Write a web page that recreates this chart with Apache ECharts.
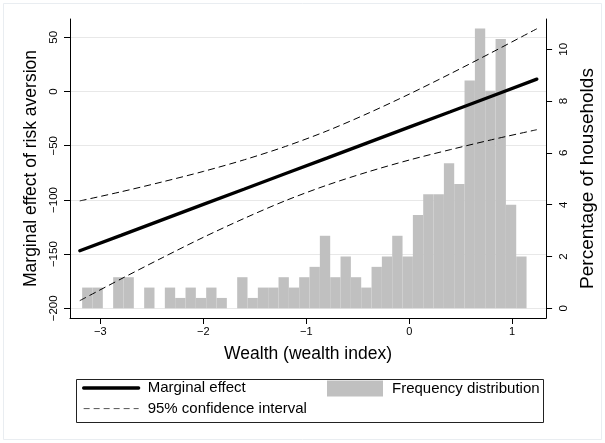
<!DOCTYPE html>
<html><head><meta charset="utf-8">
<script src="https://cdn.jsdelivr.net/npm/echarts@6/dist/echarts.min.js"></script>
<style>html,body{margin:0;padding:0;background:#fff}#c{width:605px;height:443px}</style>
</head><body><div id="c"></div>
<script>
// ---- data ----
const binStart = -3.177;
const binWidth = 0.1004;
const histPercent = [0.8,0.8,0,1.2,1.2,0,0.8,0,0.8,0.4,0.8,0.4,0.8,0.4,0,1.2,0.4,0.8,0.8,1.2,0.8,1.2,1.6,2.8,1.2,2.0,1.2,0.8,1.6,2.0,2.8,2.0,3.6,4.4,4.4,5.6,4.8,8.8,10.8,8.4,10.4,4.0,2.0];
const wealthGrid = [-3.2,-2.8,-2.4,-2.0,-1.6,-1.2,-0.8,-0.4,0,0.4,0.8,1.24];
const marginalEffect = [-146.9,-132.7,-118.4,-104.1,-89.9,-75.6,-61.4,-47.1,-32.8,-18.6,-4.3,11.4];
const ciUpper = [-100.9,-92.5,-83.4,-73.7,-62.9,-50.6,-36.4,-20.1,-2.4,16.4,35.9,57.9];
const ciLower = [-192.9,-172.9,-153.4,-134.5,-116.9,-100.6,-86.4,-74.1,-63.2,-53.6,-44.5,-35.2];
const xTicks = [-3,-2,-1,0,1];
const yLeftTicks = [-200,-150,-100,-50,0,50];
const yRightTicks = [0,2,4,6,8,10];

const FONT = 'Liberation Sans, Arial, sans-serif';
const fmt = v => String(v).replace('-', '\u2212');

const histData = histPercent.map((p, i) => [binStart + i * binWidth, binStart + (i + 1) * binWidth, p]).filter(d => d[2] > 0);
const pairs = arr => wealthGrid.map((x, i) => [x, arr[i]]);

const chart = echarts.init(document.getElementById('c'), null, {renderer: 'canvas'});
chart.setOption({
  animation: false,
  backgroundColor: '#fff',
  textStyle: {fontFamily: FONT},
  grid: {left: 70, right: 54, top: 19, bottom: 125, containLabel: false},
  xAxis: {
    type: 'value', min: -3.295, max: 1.33,
    axisLine: {onZero: false, lineStyle: {color: '#000', width: 1}},
    axisTick: {customValues: xTicks, length: 6, lineStyle: {color: '#000'}},
    axisLabel: {customValues: xTicks, formatter: fmt, fontSize: 11, color: '#000', margin: 8, fontFamily: FONT},
    splitLine: {show: false},
    name: 'Wealth (wealth index)', nameLocation: 'middle', nameGap: 27,
    nameTextStyle: {fontSize: 17.5, color: '#000', fontFamily: FONT}
  },
  yAxis: [{
    type: 'value', position: 'left', min: -208.9, max: 66.9,
    axisLine: {show: true, onZero: false, lineStyle: {color: '#000', width: 1}},
    axisTick: {show: true, customValues: yLeftTicks, length: 6, lineStyle: {color: '#000'}},
    axisLabel: {customValues: yLeftTicks, formatter: fmt, rotate: 90, fontSize: 11.5, color: '#000', margin: 10, fontFamily: FONT},
    splitLine: {show: true, lineStyle: {color: '#e8e8e8', width: 1}},
    name: 'Marginal effect of risk aversion', nameLocation: 'middle', nameGap: 30,
    nameTextStyle: {fontSize: 17.5, color: '#000', fontFamily: FONT}
  }, {
    type: 'value', position: 'right', min: -0.375, max: 11.17,
    axisLine: {show: true, onZero: false, lineStyle: {color: '#000', width: 1}},
    axisTick: {show: true, customValues: yRightTicks, length: 6, lineStyle: {color: '#000'}},
    axisLabel: {customValues: yRightTicks, formatter: fmt, rotate: 90, fontSize: 11.5, color: '#000', margin: 12, fontFamily: FONT},
    splitLine: {show: false},
    name: 'Percentage of households', nameLocation: 'middle', nameGap: 24,
    nameTextStyle: {fontSize: 19, color: '#000', fontFamily: FONT, padding: [0, 20, 0, 0]}
  }],
  legend: [{
    data: [
      {name: 'Marginal effect', lineStyle: {width: 3.3, color: '#000'}},
      {name: '95% confidence interval', lineStyle: {width: 1, color: '#555', type: [6, 4]}}
    ],
    orient: 'vertical', left: 77, top: 375.5, itemWidth: 55, itemHeight: 16, itemGap: 5.6,
    selectedMode: false,
    itemStyle: {opacity: 0},
    textStyle: {fontSize: 15, color: '#000', fontFamily: FONT, padding: [0, 0, 0, 4]}
  }, {
    data: [{name: 'Frequency distribution', icon: 'rect'}],
    left: 322, top: 375.5, itemWidth: 56, itemHeight: 16,
    selectedMode: false,
    textStyle: {fontSize: 15, color: '#000', fontFamily: FONT, padding: [0, 0, 0, 4]}
  }],
  graphic: [
    {type: 'rect', silent: true, shape: {x: 3.5, y: 3.5, width: 598, height: 436}, style: {fill: 'none', stroke: '#e9edf1', lineWidth: 1}},
    {type: 'rect', silent: true, shape: {x: 76.5, y: 379.5, width: 467, height: 43}, style: {fill: 'none', stroke: '#222', lineWidth: 1}}
  ],
  series: [{
    name: 'Frequency distribution', type: 'custom', xAxisIndex: 0, yAxisIndex: 1,
    itemStyle: {color: '#c0c0c0'},
    encode: {x: [0, 1], y: 2},
    data: histData,
    renderItem: (params, api) => {
      const p0 = api.coord([api.value(0), api.value(2)]);
      const p1 = api.coord([api.value(1), 0]);
      return {type: 'rect', shape: {x: p0[0], y: p0[1], width: p1[0] - p0[0], height: p1[1] - p0[1]}, style: {fill: '#c0c0c0'}};
    },
    z: 1
  }, {
    name: '95% confidence interval', type: 'line', yAxisIndex: 0, data: pairs(ciUpper),
    symbol: 'none', smooth: 0.3, lineStyle: {color: '#000', width: 1, type: [7, 4]}, itemStyle: {color: '#000'}, z: 3
  }, {
    name: '95% confidence interval', type: 'line', yAxisIndex: 0, data: pairs(ciLower),
    symbol: 'none', smooth: 0.3, lineStyle: {color: '#000', width: 1, type: [7, 4]}, itemStyle: {color: '#000'}, z: 3
  }, {
    name: 'Marginal effect', type: 'line', yAxisIndex: 0, data: pairs(marginalEffect),
    symbol: 'none', lineStyle: {color: '#000', width: 3.3, cap: 'round'}, itemStyle: {color: '#000'}, z: 4
  }]
});
</script></body></html>
